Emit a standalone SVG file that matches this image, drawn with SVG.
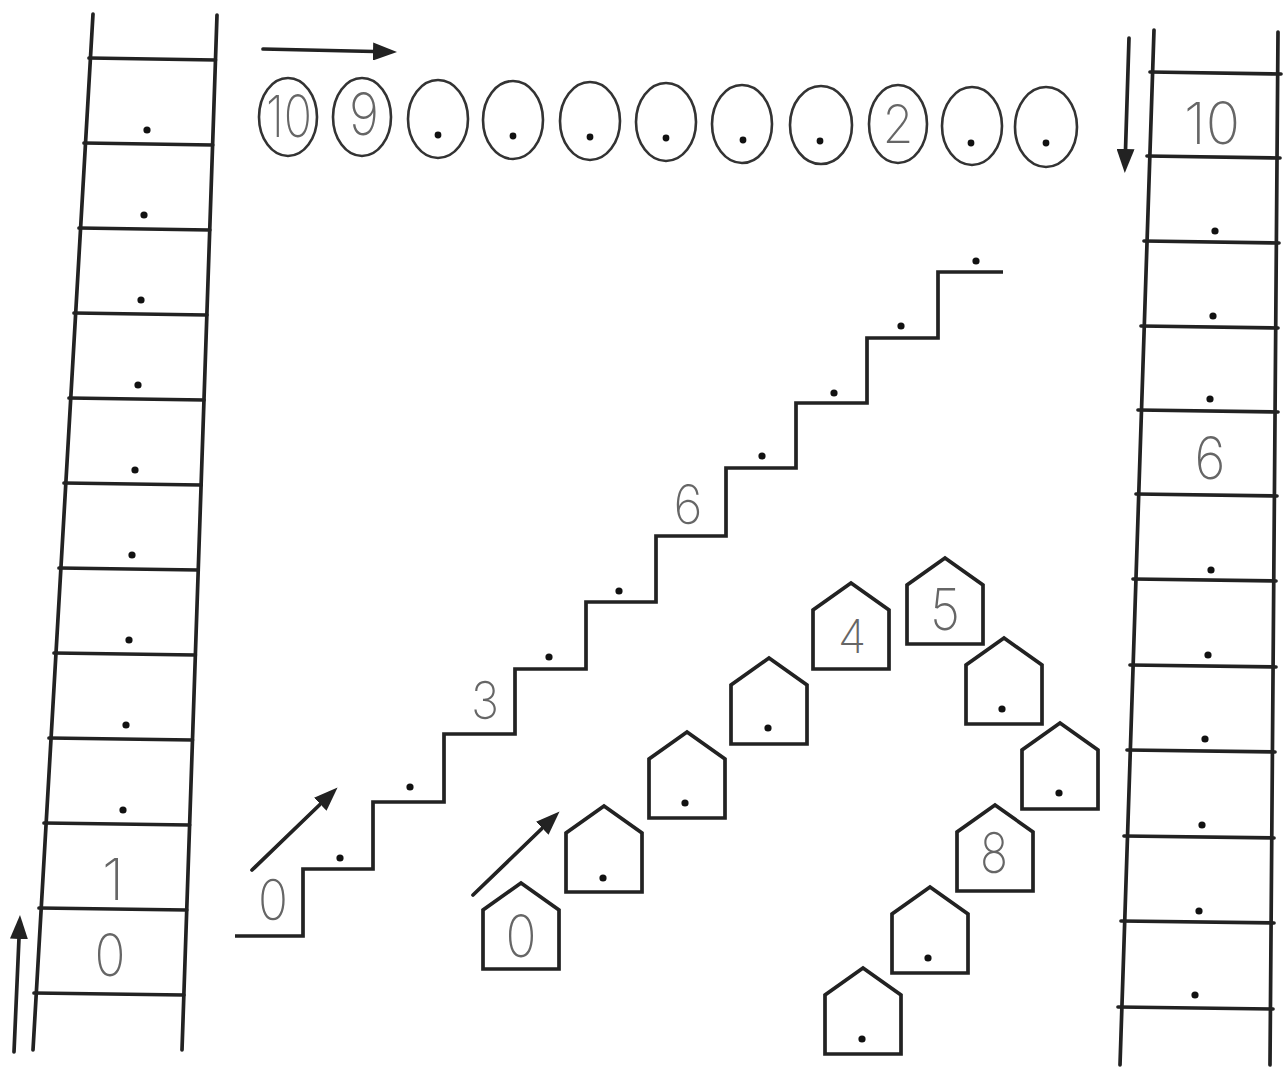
<svg xmlns="http://www.w3.org/2000/svg" xmlns:xlink="http://www.w3.org/1999/xlink" width="1287" height="1079" viewBox="0 0 1287 1079">
<style>
.ln{stroke:#222;stroke-width:3.7;fill:none;stroke-linecap:round}
.ov{stroke:#333;stroke-width:2.6;fill:none}
.hs{stroke:#222;stroke-width:3.7;fill:none;stroke-linejoin:miter}
.dt{fill:#111}
.lb{font-family:Inter,"Liberation Sans",sans-serif;font-weight:200;fill:#666;text-anchor:middle}
</style>
<defs>
<marker id="ah" viewBox="0 0 24 18" refX="1" refY="9" markerWidth="24" markerHeight="18" markerUnits="userSpaceOnUse" orient="auto">
<path d="M0,0 L24,9 L0,18 z" fill="#222"/>
</marker>
<path id="house" d="M0,0 L38,27 L38,86 L-38,86 L-38,27 Z"/>
</defs>
<rect width="1287" height="1079" fill="#fff"/>

<g id="left-ladder">
<line class="ln" x1="93" y1="14" x2="33" y2="1050"/>
<line class="ln" x1="217" y1="15" x2="182" y2="1050"/>
<g class="ln">
<line x1="89" y1="58" x2="215.5" y2="60"/>
<line x1="84" y1="143" x2="212.7" y2="145"/>
<line x1="79" y1="228" x2="209.8" y2="230"/>
<line x1="74" y1="313" x2="206.9" y2="315"/>
<line x1="69" y1="398" x2="204" y2="400"/>
<line x1="64" y1="483" x2="201.1" y2="485"/>
<line x1="59" y1="568" x2="198.3" y2="570"/>
<line x1="54" y1="653" x2="195.4" y2="655"/>
<line x1="49" y1="738" x2="192.5" y2="740"/>
<line x1="44" y1="823" x2="189.6" y2="825"/>
<line x1="39" y1="908" x2="186.7" y2="910"/>
<line x1="34" y1="993" x2="183.9" y2="995"/>
</g>
<g class="dt">
<circle cx="147" cy="130" r="3.6"/>
<circle cx="144" cy="215" r="3.6"/>
<circle cx="141" cy="300" r="3.6"/>
<circle cx="138" cy="385" r="3.6"/>
<circle cx="135" cy="470" r="3.6"/>
<circle cx="132" cy="555" r="3.6"/>
<circle cx="129" cy="640" r="3.6"/>
<circle cx="126" cy="725" r="3.6"/>
<circle cx="123" cy="810" r="3.6"/>
</g>
<text class="lb" x="113" y="900" font-size="58">1</text>
<text class="lb" x="110" y="976" font-size="58" textLength="31" lengthAdjust="spacingAndGlyphs">0</text>
</g>

<g id="right-ladder">
<line class="ln" x1="1154" y1="30" x2="1120" y2="1065"/>
<line class="ln" x1="1278" y1="32" x2="1270" y2="1065"/>
<g class="ln">
<line x1="1150" y1="72" x2="1281" y2="74"/>
<line x1="1147" y1="156" x2="1280" y2="158"/>
<line x1="1144" y1="241" x2="1279" y2="243"/>
<line x1="1141" y1="326" x2="1278" y2="328"/>
<line x1="1138" y1="410" x2="1278" y2="412"/>
<line x1="1136" y1="494" x2="1277" y2="496"/>
<line x1="1133" y1="579" x2="1276" y2="581"/>
<line x1="1130" y1="665" x2="1276" y2="667"/>
<line x1="1127" y1="750" x2="1275" y2="752"/>
<line x1="1124" y1="836" x2="1274" y2="838"/>
<line x1="1121" y1="921" x2="1274" y2="923"/>
<line x1="1118" y1="1007" x2="1273" y2="1009"/>
</g>
<g class="dt">
<circle cx="1215" cy="231" r="3.6"/>
<circle cx="1213" cy="316" r="3.6"/>
<circle cx="1210" cy="399" r="3.6"/>
<circle cx="1211" cy="570" r="3.6"/>
<circle cx="1208" cy="655" r="3.6"/>
<circle cx="1205" cy="739" r="3.6"/>
<circle cx="1202" cy="825" r="3.6"/>
<circle cx="1199" cy="911" r="3.6"/>
<circle cx="1195" cy="995" r="3.6"/>
</g>
<text class="lb" x="1212" y="144" font-size="58" textLength="56" lengthAdjust="spacingAndGlyphs">10</text>
<text class="lb" x="1210" y="479" font-size="58" textLength="31" lengthAdjust="spacingAndGlyphs">6</text>
</g>

<g id="ovals">
<g class="ov">
<ellipse cx="288" cy="117" rx="29" ry="39"/>
<ellipse cx="362" cy="117" rx="29" ry="39"/>
<ellipse cx="438" cy="119" rx="30" ry="39"/>
<ellipse cx="513" cy="120" rx="30" ry="39"/>
<ellipse cx="590" cy="121" rx="30" ry="39"/>
<ellipse cx="666" cy="122" rx="30" ry="39"/>
<ellipse cx="742" cy="124" rx="30" ry="39"/>
<ellipse cx="821" cy="125" rx="31" ry="39"/>
<ellipse cx="898" cy="124" rx="29" ry="39"/>
<ellipse cx="972" cy="126" rx="30" ry="39"/>
<ellipse cx="1046" cy="127" rx="31" ry="40"/>
</g>
<g class="dt">
<circle cx="438" cy="135" r="3.4"/>
<circle cx="513" cy="136" r="3.4"/>
<circle cx="590" cy="137" r="3.4"/>
<circle cx="666" cy="138" r="3.4"/>
<circle cx="743" cy="140" r="3.4"/>
<circle cx="820" cy="141" r="3.4"/>
<circle cx="971" cy="143" r="3.4"/>
<circle cx="1046" cy="143" r="3.4"/>
</g>
<text class="lb" x="289" y="137" font-size="58" textLength="46" lengthAdjust="spacingAndGlyphs">10</text>
<text class="lb" x="364" y="135" font-size="58" textLength="30" lengthAdjust="spacingAndGlyphs">9</text>
<text class="lb" x="898" y="143" font-size="53" textLength="31" lengthAdjust="spacingAndGlyphs">2</text>
</g>

<g id="stairs">
<polyline class="hs" points="235,936 303,936 303,869 373,869 373,802 444,802 444,734 515,734 515,669 586,669 586,602 656,602 656,536 726,536 726,468 796,468 796,403 867,403 867,338 938,338 938,272 1003,272"/>
<g class="dt">
<circle cx="340" cy="858" r="3.6"/>
<circle cx="410" cy="787" r="3.6"/>
<circle cx="549" cy="657" r="3.6"/>
<circle cx="619" cy="591" r="3.6"/>
<circle cx="762" cy="456" r="3.6"/>
<circle cx="834" cy="393" r="3.6"/>
<circle cx="901" cy="326" r="3.6"/>
<circle cx="976" cy="261" r="3.6"/>
</g>
<text class="lb" x="273" y="920" font-size="56" textLength="30" lengthAdjust="spacingAndGlyphs">0</text>
<text class="lb" x="485" y="719" font-size="52" textLength="28" lengthAdjust="spacingAndGlyphs">3</text>
<text class="lb" x="688" y="524" font-size="54" textLength="29" lengthAdjust="spacingAndGlyphs">6</text>
</g>

<g id="houses" class="hs">
<g id="house-0"><use xlink:href="#house" x="521" y="883"/><text class="lb" x="521" y="957" font-size="58" stroke="none" textLength="31" lengthAdjust="spacingAndGlyphs">0</text></g>
<g id="house-1"><use xlink:href="#house" x="604" y="806"/><circle class="dt" cx="603" cy="878" r="3.6" stroke="none"/></g>
<g id="house-2"><use xlink:href="#house" x="687" y="732"/><circle class="dt" cx="685" cy="803" r="3.6" stroke="none"/></g>
<g id="house-3"><use xlink:href="#house" x="769" y="658"/><circle class="dt" cx="768" cy="728" r="3.6" stroke="none"/></g>
<g id="house-4"><use xlink:href="#house" x="851" y="583"/><text class="lb" x="852" y="653" font-size="46" stroke="none">4</text></g>
<g id="house-5"><use xlink:href="#house" x="945" y="558"/><text class="lb" x="945" y="630" font-size="58" stroke="none" textLength="30" lengthAdjust="spacingAndGlyphs">5</text></g>
<g id="house-6"><use xlink:href="#house" x="1004" y="638"/><circle class="dt" cx="1002" cy="709" r="3.6" stroke="none"/></g>
<g id="house-7"><use xlink:href="#house" x="1060" y="723"/><circle class="dt" cx="1059" cy="793" r="3.6" stroke="none"/></g>
<g id="house-8"><use xlink:href="#house" x="995" y="805"/><text class="lb" x="994" y="873" font-size="56" stroke="none" textLength="28" lengthAdjust="spacingAndGlyphs">8</text></g>
<g id="house-9"><use xlink:href="#house" x="930" y="887"/><circle class="dt" cx="928" cy="958" r="3.6" stroke="none"/></g>
<g id="house-10"><use xlink:href="#house" x="863" y="968"/><circle class="dt" cx="862" cy="1039" r="3.6" stroke="none"/></g>
</g>

<g id="connectors" class="ln" stroke-linecap="butt">
<line x1="14" y1="1052" x2="19" y2="938" marker-end="url(#ah)"/>
<line x1="263" y1="49" x2="374" y2="51.5" marker-end="url(#ah)"/>
<line x1="1129" y1="38" x2="1125.5" y2="150" marker-end="url(#ah)"/>
<line x1="252" y1="870" x2="321" y2="803.5" marker-end="url(#ah)"/>
<line x1="473" y1="895" x2="543" y2="827.5" marker-end="url(#ah)"/>
</g>
</svg>
